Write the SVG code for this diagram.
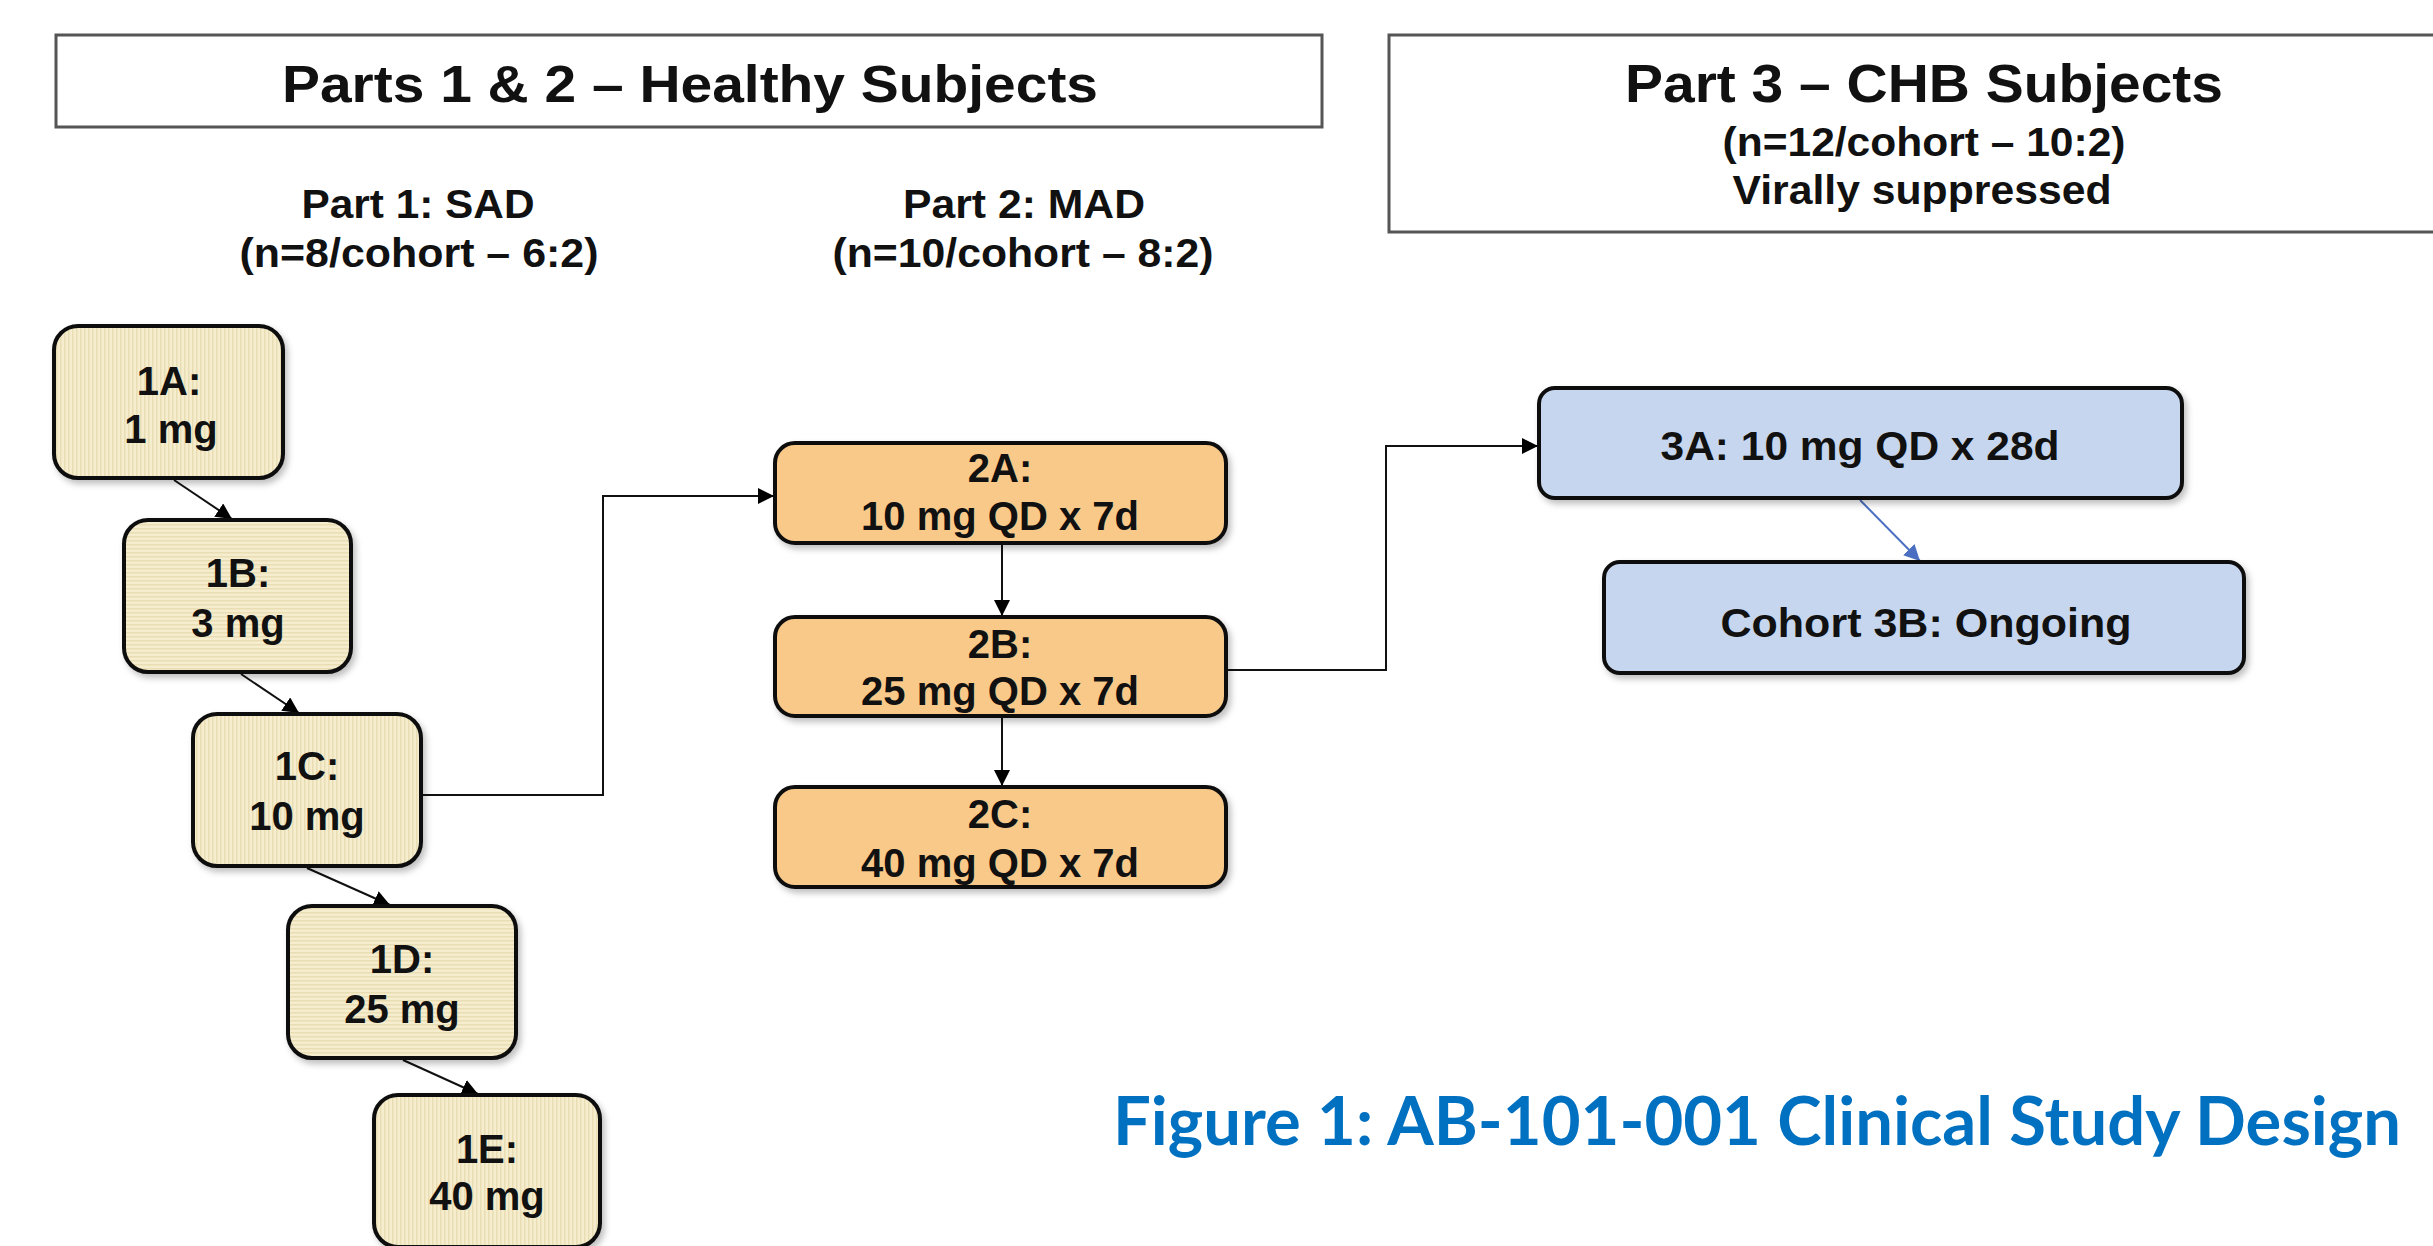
<svg xmlns="http://www.w3.org/2000/svg" width="2433" height="1246" viewBox="0 0 2433 1246">
<defs>
<pattern id="vstripe" width="4" height="4" patternUnits="userSpaceOnUse"><rect width="4" height="4" fill="#F6EDCF"/><rect width="1.5" height="4" fill="#E9DDB4"/></pattern>
<pattern id="hstripe" width="4" height="4" patternUnits="userSpaceOnUse"><rect width="4" height="4" fill="#F6EDCF"/><rect width="4" height="1.5" fill="#E9DDB4"/></pattern>
<filter id="sh" x="-10%" y="-10%" width="125%" height="130%"><feDropShadow dx="3" dy="4" stdDeviation="3" flood-color="#000" flood-opacity="0.25"/></filter>
<marker id="ah" markerUnits="userSpaceOnUse" markerWidth="18" markerHeight="16" refX="16" refY="8" orient="auto"><path d="M0,0 L16,8 L0,16 Z" fill="#000"/></marker>
<marker id="ahb" markerUnits="userSpaceOnUse" markerWidth="18" markerHeight="16" refX="16" refY="8" orient="auto"><path d="M0,0 L16,8 L0,16 Z" fill="#4A6FC2"/></marker>
</defs>
<style>
.hdr{fill:#fff;stroke:#555;stroke-width:3}
.t{font-family:"Liberation Sans",Arial,sans-serif;font-weight:bold;fill:#111;text-anchor:middle}
.n1v{fill:url(#vstripe);stroke:#111;stroke-width:4;filter:url(#sh)}
.n1h{fill:url(#hstripe);stroke:#111;stroke-width:4;filter:url(#sh)}
.n2{fill:#F9C98A;stroke:#111;stroke-width:4;filter:url(#sh)}
.n3{fill:#C6D6EE;stroke:#111;stroke-width:4;filter:url(#sh)}
.c{fill:none;stroke:#111;stroke-width:2}
.cb{fill:none;stroke:#4A6FC2;stroke-width:2}
</style>
<rect width="2433" height="1246" fill="#fff"/>

<g id="header-parts12">
<rect class="hdr" x="56" y="35" width="1266" height="92"/>
<text class="t" x="690" y="102" font-size="52" textLength="816" lengthAdjust="spacingAndGlyphs">Parts 1 &amp; 2 – Healthy Subjects</text>
</g>
<g id="header-part3">
<rect class="hdr" x="1389" y="35" width="1060" height="197"/>
<text class="t" x="1924" y="102" font-size="54" textLength="598" lengthAdjust="spacingAndGlyphs">Part 3 – CHB Subjects</text>
<text class="t" x="1924" y="156" font-size="40" textLength="403" lengthAdjust="spacingAndGlyphs">(n=12/cohort – 10:2)</text>
<text class="t" x="1922" y="204" font-size="40" textLength="379" lengthAdjust="spacingAndGlyphs">Virally suppressed</text>
</g>
<g id="label-part1">
<text class="t" x="418" y="218" font-size="41" textLength="233" lengthAdjust="spacingAndGlyphs">Part 1: SAD</text>
<text class="t" x="419" y="267" font-size="41" textLength="359" lengthAdjust="spacingAndGlyphs">(n=8/cohort – 6:2)</text>
</g>
<g id="label-part2">
<text class="t" x="1024" y="218" font-size="41" textLength="242" lengthAdjust="spacingAndGlyphs">Part 2: MAD</text>
<text class="t" x="1023" y="267" font-size="41" textLength="381" lengthAdjust="spacingAndGlyphs">(n=10/cohort – 8:2)</text>
</g>

<g id="connectors">
<line class="c" x1="174" y1="480" x2="232" y2="519" marker-end="url(#ah)"/>
<line class="c" x1="241" y1="674" x2="299" y2="713" marker-end="url(#ah)"/>
<line class="c" x1="307" y1="868" x2="390" y2="905" marker-end="url(#ah)"/>
<line class="c" x1="403" y1="1060" x2="478" y2="1094" marker-end="url(#ah)"/>
<polyline class="c" points="423,795 603,795 603,496 774,496" marker-end="url(#ah)"/>
<line class="c" x1="1002" y1="545" x2="1002" y2="616" marker-end="url(#ah)"/>
<line class="c" x1="1002" y1="717" x2="1002" y2="786" marker-end="url(#ah)"/>
<polyline class="c" points="1228,670 1386,670 1386,446 1538,446" marker-end="url(#ah)"/>
<line class="cb" x1="1860" y1="500" x2="1920" y2="561" marker-end="url(#ahb)"/>
</g>

<g id="node-1A">
<rect class="n1v" x="54" y="326" width="229" height="152" rx="24"/>
<text class="t" x="169" y="395" font-size="40">1A:</text>
<text class="t" x="171" y="443" font-size="40">1 mg</text>
</g>
<g id="node-1B">
<rect class="n1h" x="124" y="520" width="227" height="152" rx="24"/>
<text class="t" x="238" y="587" font-size="40">1B:</text>
<text class="t" x="238" y="637" font-size="40">3 mg</text>
</g>
<g id="node-1C">
<rect class="n1v" x="193" y="714" width="228" height="152" rx="24"/>
<text class="t" x="307" y="780" font-size="40">1C:</text>
<text class="t" x="307" y="830" font-size="40">10 mg</text>
</g>
<g id="node-1D">
<rect class="n1h" x="288" y="906" width="228" height="152" rx="24"/>
<text class="t" x="402" y="973" font-size="40">1D:</text>
<text class="t" x="402" y="1023" font-size="40">25 mg</text>
</g>
<g id="node-1E">
<rect class="n1v" x="374" y="1095" width="226" height="152" rx="24"/>
<text class="t" x="487" y="1163" font-size="40">1E:</text>
<text class="t" x="487" y="1210" font-size="40">40 mg</text>
</g>

<g id="node-2A">
<rect class="n2" x="775" y="443" width="451" height="100" rx="20"/>
<text class="t" x="1000" y="482" font-size="40">2A:</text>
<text class="t" x="1000" y="530" font-size="40">10 mg QD x 7d</text>
</g>
<g id="node-2B">
<rect class="n2" x="775" y="617" width="451" height="99" rx="20"/>
<text class="t" x="1000" y="658" font-size="40">2B:</text>
<text class="t" x="1000" y="705" font-size="40">25 mg QD x 7d</text>
</g>
<g id="node-2C">
<rect class="n2" x="775" y="787" width="451" height="100" rx="20"/>
<text class="t" x="1000" y="828" font-size="40">2C:</text>
<text class="t" x="1000" y="877" font-size="40">40 mg QD x 7d</text>
</g>

<g id="node-3A">
<rect class="n3" x="1539" y="388" width="643" height="110" rx="16"/>
<text class="t" x="1860" y="460" font-size="41" textLength="399" lengthAdjust="spacingAndGlyphs">3A: 10 mg QD x 28d</text>
</g>
<g id="node-3B">
<rect class="n3" x="1604" y="562" width="640" height="111" rx="16"/>
<text class="t" x="1926" y="637" font-size="41" textLength="411" lengthAdjust="spacingAndGlyphs">Cohort 3B: Ongoing</text>
</g>

<g id="caption">
<text x="1113" y="1145" font-family="Lato,'Open Sans',sans-serif" font-weight="bold" font-size="66" fill="#0070C0" textLength="1288" lengthAdjust="spacingAndGlyphs">Figure 1: AB-101-001 Clinical Study Design</text>
</g>
</svg>
